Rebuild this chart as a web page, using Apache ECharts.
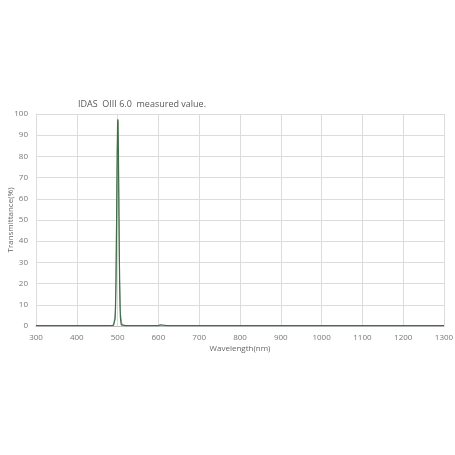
<!DOCTYPE html>
<html><head><meta charset="utf-8">
<script src="https://cdn.jsdelivr.net/npm/echarts@6/dist/echarts.min.js"></script>
<style>html,body{margin:0;padding:0;background:#fff}#c{width:455px;height:455px}</style>
</head><body><div id="c"></div>
<script>
const titleText = "IDAS  OIII 6.0  measured value.";
const xName = "Wavelength(nm)";
const yName = "Transmittance(%)";
// measured (green) curve
const wlGreen = [300,350,400,450,480,490,492,494,495,496,497,498,499,500,500.5,501,502,503,504,505,506,507,509,512,520,550,562,564,565,566,568,580,600,604,605,606,620,630,632,634,660,700,800,900,1000,1100,1200,1300];
const tGreen  = [0.2,0.2,0.2,0.2,0.2,0.3,0.5,3.5,9,20,38,60,82,96,97.5,96,82,60,38,20,9,3.5,0.5,0.2,0.2,0.2,0.2,0.3,1.0,0.3,0.2,0.2,0.2,0.2,0.6,0.2,0.2,0.2,0.5,0.2,0.2,0.2,0.2,0.2,0.2,0.2,0.2,0.2];
// gray envelope curve
const wlGray = [300,480,488,491,494,496,498,500.5,503,505,507,510,513,520,1300];
const tGray  = [0.1,0.1,0.3,1.5,6,22,60,97,60,22,6,1.5,0.3,0.1,0.1];

const pair = (xs, ys) => xs.map((x, i) => [x, ys[i]]);
const chart = echarts.init(document.getElementById('c'));
const lab = {color:'#777', fontSize:8, fontFamily:'Open Sans'};
chart.setOption({
  animation:false,
  title:{text:titleText, left:137, textAlign:'center', top:95,
    textStyle:{fontSize:9, fontWeight:'normal', color:'#595959', fontFamily:'Open Sans'}},
  grid:{left:36, right:11, top:114, bottom:129, containLabel:false, outerBoundsMode:'none'},
  xAxis:{type:'value', min:300, max:1300, interval:100,
    name:xName, nameLocation:'middle', nameGap:19, nameMoveOverlap:false,
    nameTextStyle:{fontSize:8, color:'#666', fontFamily:'Open Sans'},
    axisLine:{show:true, lineStyle:{color:'#bfbfbf'}}, axisTick:{show:false},
    axisLabel:{...lab, margin:8, formatter:v => String(v)},
    splitLine:{show:true, lineStyle:{color:'#dcdcdc', width:1}}},
  yAxis:{type:'value', min:0, max:100, interval:10,
    name:yName, nameLocation:'middle', nameGap:21, nameMoveOverlap:false,
    nameTextStyle:{fontSize:8, color:'#666', fontFamily:'Open Sans'},
    axisLine:{show:true, lineStyle:{color:'#dcdcdc'}}, axisTick:{show:false},
    axisLabel:{...lab, margin:8},
    splitLine:{show:true, lineStyle:{color:'#dcdcdc', width:1}}},
  series:[
    {type:'line', data:pair(wlGray,tGray), symbol:'none', smooth:false,
      lineStyle:{color:'#a8a8a8', width:1}, z:2},
    {type:'line', data:pair(wlGreen,tGreen), symbol:'none', smooth:false,
      lineStyle:{color:'#3f6f47', width:1.2}, z:3}
  ]
});
</script></body></html>
